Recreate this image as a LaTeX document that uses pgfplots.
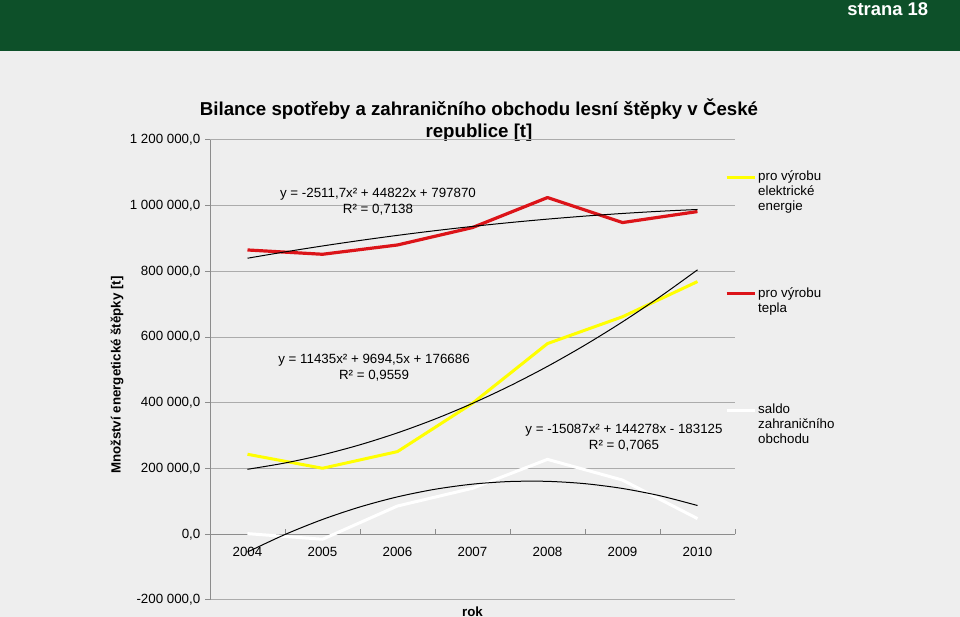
\documentclass[border=0pt]{standalone}
\usepackage{pgfplots}
\pgfplotsset{compat=1.18}
\usepackage{fontspec}
\setmainfont{Liberation Sans}
\definecolor{bg}{HTML}{EEEEEE}
\definecolor{hdr}{HTML}{0D5029}
\definecolor{ylw}{HTML}{FFFF00}
\definecolor{rd}{HTML}{DC1419}
\definecolor{gridc}{HTML}{ABABAB}
\definecolor{axc}{HTML}{8C8C8C}
\begin{document}
\begin{tikzpicture}
\path[use as bounding box] (0pt,0pt) rectangle (720pt,462.75pt);
\clip (0pt,0pt) rectangle (720pt,462.75pt);
\fill[bg] (0pt,0pt) rectangle (720pt,462.75pt);
\fill[hdr] (0pt,424.5pt) rectangle (720pt,462.75pt);
\node[anchor=base west, text=white, font=\bfseries\fontsize{13.8}{16}\selectfont, inner sep=0pt] at (635.25pt,450.75pt) {strana 18};
\node[anchor=base, align=center, font=\bfseries\fontsize{14}{16.5}\selectfont, inner sep=0pt] at (359.25pt,359.25pt) {Bilance spotřeby a zahraničního obchodu lesní štěpky v České\\republice [t]};
\begin{axis}[
  at={(157.5pt,12.75pt)}, anchor=south west,
  scale only axis, width=393.75pt, height=345pt,
  xmin=0.5, xmax=7.5, ymin=-200000, ymax=1200000,
  axis x line*=middle, axis y line*=left,
  hide obscured x ticks=false, hide obscured y ticks=false,
  axis line style={axc, line width=0.75pt, -},
  xtick={0.5,1.5,2.5,3.5,4.5,5.5,6.5,7.5},
  xticklabels={2004,2005,2006,2007,2008,2009,2010,{}},
  xticklabel style={xshift=28.125pt, yshift=-6pt},
  ytick={-200000,0,200000,400000,600000,800000,1000000,1200000},
  yticklabels={{-200 000,0},{0,0},{200 000,0},{400 000,0},{600 000,0},{800 000,0},{1 000 000,0},{1 200 000,0}},
  ymajorgrids, grid style={gridc, line width=0.75pt},
  tick style={axc, line width=0.75pt},
  major tick length=3.75pt,
  ytick align=outside,
  tick label style={font=\fontsize{10}{12}\selectfont},
  scaled y ticks=false,
  ylabel={Množství energetické štěpky [t]},
  ylabel style={at={(rel axis cs:-0.1771,0.489)}, anchor=center, font=\bfseries\fontsize{10}{12}\selectfont},
  xlabel={rok},
  xlabel style={at={(rel axis cs:0.5,-0.0348)}, anchor=base, font=\bfseries\fontsize{10}{12}\selectfont},
  legend style={at={(rel axis cs:0.98095,0.933)}, anchor=north west, draw=none, fill=none, inner sep=0pt, outer sep=0pt, row sep=0pt, column sep=1.5pt, font=\fontsize{10}{11.25}\selectfont, cells={anchor=base west}, nodes={inner sep=0pt, text height=7.5pt, text depth=79.9pt}},
  legend image code/.code={\draw[#1] (0pt,2.6pt) -- (21pt,2.6pt);},
]
\addplot[ylw, line width=2.25pt, line join=round] coordinates {(1,243500)(2,200900)(3,251700)(4,398700)(5,580400)(6,662000)(7,769100)};
\addlegendentry{\parbox[t]{2.5cm}{\raggedright pro výrobu\\elektrické\\energie}}
\addplot[rd, line width=2.4pt, line join=round] coordinates {(1,865300)(2,852200)(3,880500)(4,933500)(5,1024800)(6,948700)(7,982200)};
\addlegendentry{\parbox[t]{2.5cm}{\raggedright pro výrobu\\tepla}}
\addplot[white, line width=2.25pt, line join=round] coordinates {(1,2000)(2,-15200)(3,86100)(4,140000)(5,228000)(6,165000)(7,47700)};
\addlegendentry{\parbox[t]{2.5cm}{\raggedright saldo\\zahraničního\\obchodu}}
% polynomial trend lines (values of the printed equations)
\addplot[black, line width=0.75pt, smooth, forget plot] coordinates {(1,840180)(1.5,859452)(2,877467)(2.5,894227)(3,909731)(3.5,923979)(4,936971)(4.5,948707)(5,959188)(5.5,968412)(6,976381)(6.5,983094)(7,988551)};
\addplot[black, line width=0.75pt, smooth, forget plot] coordinates {(1,197816)(1.5,216957)(2,241815)(2.5,272391)(3,308685)(3.5,350696)(4,398424)(4.5,451870)(5,511034)(5.5,575915)(6,646513)(6.5,722829)(7,804863)};
\addplot[black, line width=0.75pt, smooth, forget plot] coordinates {(1,-53934)(1.5,-654)(2,45083)(2.5,83276)(3,113926)(3.5,137032)(4,152595)(4.5,160614)(5,161090)(5.5,154022)(6,139411)(6.5,117256)(7,87558)};
\node[align=center, font=\fontsize{10}{12}\selectfont] at (axis cs:2.74,1012000) {y = -2511,7x² + 44822x + 797870\\R² = 0,7138};
\node[align=center, font=\fontsize{10}{12}\selectfont] at (axis cs:2.687,507000) {y = 11435x² + 9694,5x + 176686\\R² = 0,9559};
\node[align=center, font=\fontsize{10}{12}\selectfont] at (axis cs:6.02,294000) {y = -15087x² + 144278x - 183125\\R² = 0,7065};
\end{axis}
\end{tikzpicture}
\end{document}
